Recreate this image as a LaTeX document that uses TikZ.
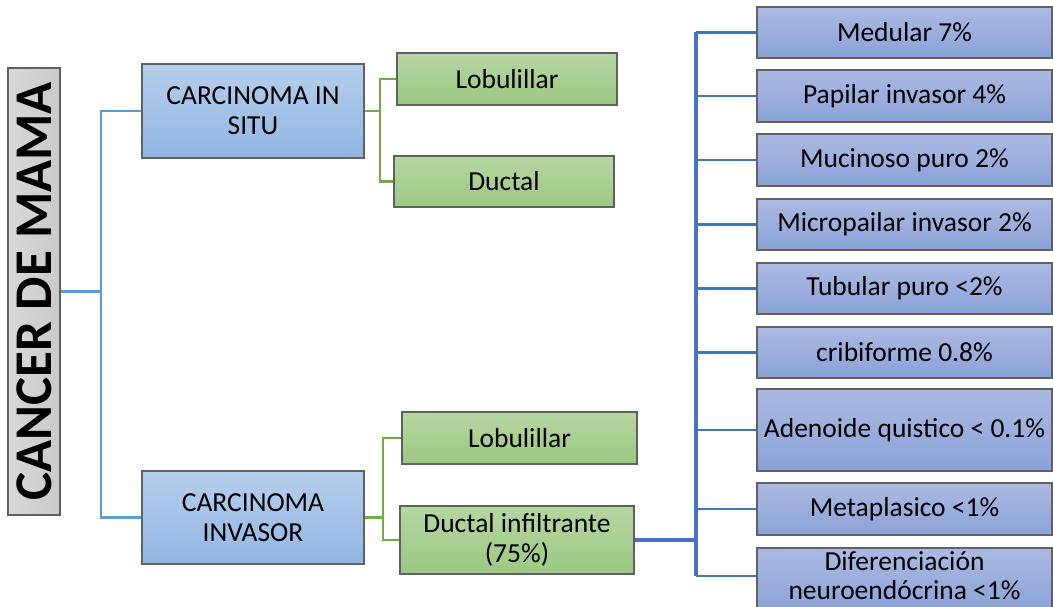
\documentclass[tikz,border=0pt]{standalone}
\usepackage{fontspec}
\setmainfont{Carlito}
\begin{document}
\begin{tikzpicture}[x=1pt,y=-1pt,
  box/.style={draw=black!62, line width=1.1pt, align=center, inner sep=0pt,
    font=\fontsize{27.5}{30}\selectfont, text=black},
  rootbox/.style={box, left color=black!15, right color=black!21},
  skybox/.style={box, top color={rgb,255:red,182;green,206;blue,236}, bottom color={rgb,255:red,145;green,182;blue,228}},
  leafbox/.style={box, top color={rgb,255:red,182;green,215;blue,162}, bottom color={rgb,255:red,155;green,200;blue,130}},
  typebox/.style={box, top color={rgb,255:red,172;green,186;blue,226}, bottom color={rgb,255:red,138;green,162;blue,216},
    minimum width=295pt},
  boxtext/.style={align=center, inner sep=0pt, font=\fontsize{27.5}{29}\selectfont, text=black},
  lblue/.style={draw={rgb,255:red,91;green,155;blue,213}, line width=2.4pt},
  lgreen/.style={draw={rgb,255:red,112;green,173;blue,71}, line width=2.4pt},
  dblue/.style={draw={rgb,255:red,68;green,114;blue,196}, line width=2.4pt},
]
\useasboundingbox (0,0) rectangle (1053,607);

% root
\node[rootbox, minimum width=52pt, minimum height=447pt] (root) at (34,291.5) {};
\node[rotate=90, font=\fontsize{53}{60}\selectfont\bfseries] (roottxt) at (root.center) {CANCER DE MAMA};

% second level
\node[skybox, minimum width=222pt, minimum height=94pt] (situ) at (253,111) {CARCINOMA IN\\SITU};
\node[skybox, minimum width=222pt, minimum height=93pt] (inv) at (253,517.5) {CARCINOMA\\INVASOR};

% third level
\node[leafbox, minimum width=220pt, minimum height=52pt] (lob1) at (507,79) {Lobulillar};
\node[leafbox, minimum width=220pt, minimum height=51pt] (duc1) at (504,181.5) {Ductal};
\node[leafbox, minimum width=235pt, minimum height=52pt] (lob2) at (519.5,438) {Lobulillar};
\node[leafbox, minimum width=234pt, minimum height=68pt] (duc2) at (517,540) {Ductal infiltrante\\(75\%)};

% histological types
\node[typebox, minimum height=51pt] (t1) at (904.5,32.5) {Medular 7\%};
\node[typebox, minimum height=52pt] (t2) at (904.5,96) {Papilar invasor 4\%};
\node[typebox, minimum height=52pt] (t3) at (904.5,160) {Mucinoso puro 2\%};
\node[typebox, minimum height=51pt] (t4) at (904.5,224.5) {Micropailar invasor 2\%};
\node[typebox, minimum height=51pt] (t5) at (904.5,288.5) {Tubular puro <2\%};
\node[typebox, minimum height=51pt] (t6) at (904.5,352.5) {cribiforme 0.8\%};
\node[typebox, minimum height=82pt] (t7) at (904.5,430) {Adenoide quistico < 0.1\%};
\node[typebox, minimum height=52pt] (t8) at (904.5,509) {Metaplasico <1\%};
% last box runs past the lower edge; its text sits a little higher
\node[typebox, minimum height=64pt] (t9) at (904.5,580) {};
\node[boxtext] (t9txt) at (904.5,576) {Diferenciación\\neuroendócrina <1\%};

% trunk positions of the connectors
\coordinate (k1) at (101,0);
\coordinate (k2) at (380,0);
\coordinate (k3) at (383,0);
\coordinate (k4) at (696,0);

% root -> carcinoma
\draw[lblue] (root.east) -- (root.east -| k1);
\draw[lblue] (situ.west) -- (situ.west -| k1) -- (inv.west -| k1) -- (inv.west);

% in situ -> lobulillar / ductal
\draw[lgreen] (situ.east) -- (situ.east -| k2);
\draw[lgreen] (lob1.west) -- (lob1.west -| k2) -- (duc1.west -| k2) -- (duc1.west);

% invasor -> lobulillar / ductal infiltrante
\draw[lgreen] (inv.east) -- (inv.east -| k3);
\draw[lgreen] (lob2.west) -- (lob2.west -| k3) -- (duc2.west -| k3) -- (duc2.west);

% ductal infiltrante -> types
\draw[dblue, line width=3.2pt] (duc2.east) -- (duc2.east -| k4);
\draw[dblue, line width=3.2pt] (t1.west -| k4) -- (t9txt.west -| k4);
\foreach \t in {t1,t2,t3,t4,t5,t6,t7,t8}
  \draw[dblue] (\t.west -| k4) -- (\t.west);
\draw[dblue] (t9txt.west -| k4) -- (t9txt.west -| t9.west);
\end{tikzpicture}
\end{document}
